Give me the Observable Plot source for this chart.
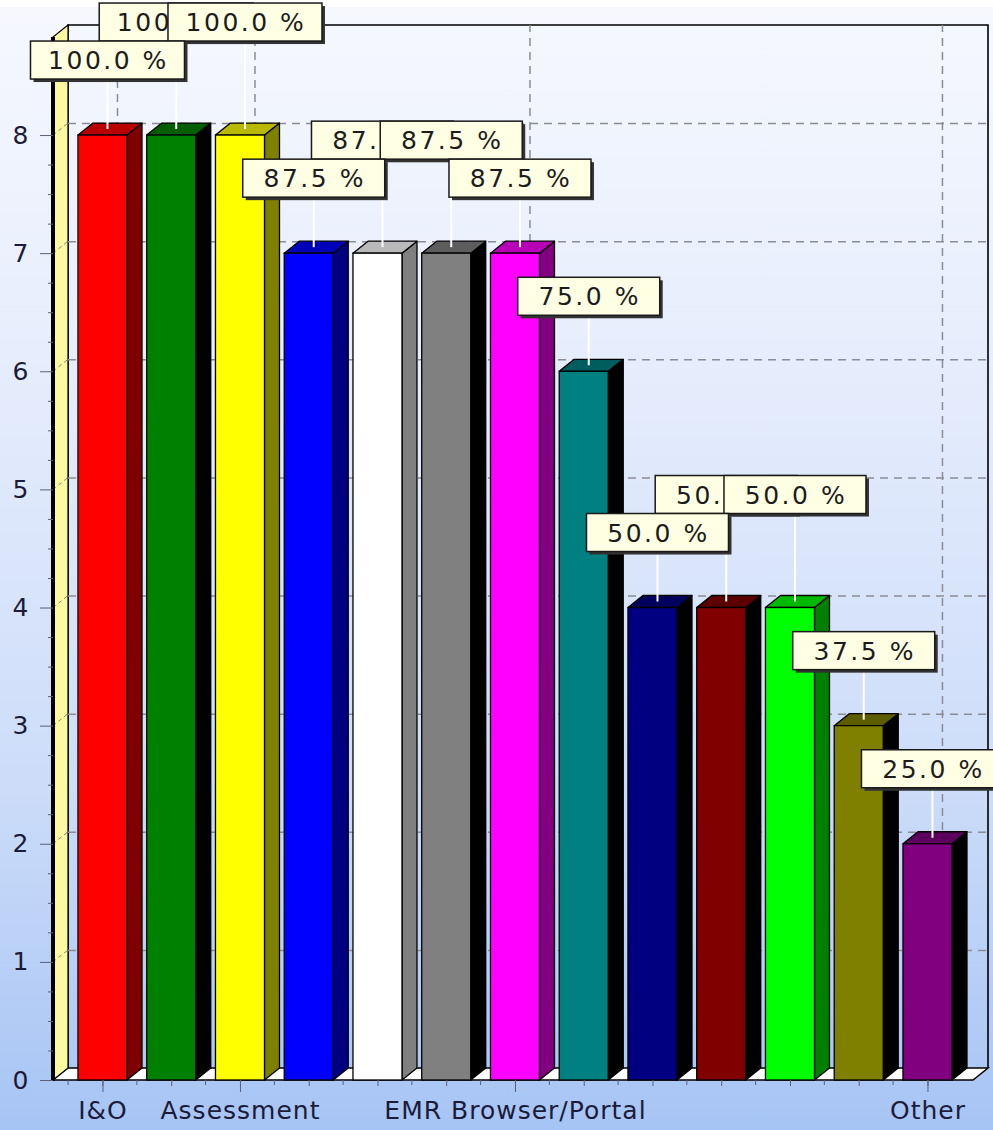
<!DOCTYPE html>
<html>
<head>
<meta charset="utf-8">
<script src="https://cdn.jsdelivr.net/npm/d3@7"></script>
<script src="https://cdn.jsdelivr.net/npm/@observablehq/plot@0.6"></script>
<style>
  html, body { margin: 0; padding: 0; background: #ffffff; }
  #chart svg { display: block; }
  [aria-label="x-axis tick label"] text { letter-spacing: 1px; }
</style>
</head>
<body>
<div id="chart"></div>
<script>
// ---- data ----
const categories = ["I&O", "", "Assessment", "", "", "", "EMR Browser/Portal", "", "", "", "", "", "Other"];
const counts = [8, 8, 8, 7, 7, 7, 7, 6, 4, 4, 4, 3, 2];
const percentLabels = ["100.0 %", "100.0 %", "100.0 %", "87.5 %", "87.5 %", "87.5 %", "87.5 %", "75.0 %", "50.0 %", "50.0 %", "50.0 %", "37.5 %", "25.0 %"];
const barColors = ["#ff0000", "#008000", "#ffff00", "#0000ff", "#ffffff", "#808080", "#ff00ff", "#008080", "#000080", "#800000", "#00ff00", "#808000", "#800080"];
const yTicks = [0, 1, 2, 3, 4, 5, 6, 7, 8];
const labeledBars = [0, 2, 6, 12];

// ---- styling constants ----
const DX = 15, DY = 12;          // 3D depth offset (px)
const BOX_H = 38;
const LOW_GAP = 50, HIGH_GAP = 88;
const FONT = "DejaVu Sans, Verdana, sans-serif";

const data = counts.map((v, i) => ({i, v, color: barColors[i], label: percentLabels[i]}));

function getScales(args) {
  return args.find(a => a && typeof a === "object" && !Array.isArray(a) && typeof a.x === "function" && typeof a.y === "function");
}
function sideColor(c) {
  const r = d3.rgb(c);
  const q = v => (v >= 200 ? 128 : 0);
  return d3.rgb(q(r.r), q(r.g), q(r.b)).formatHex();
}
function topColor(c) {
  return d3.rgb(c).darker(0.9).formatHex();
}

function walls(...args) {
  const {x, y} = getScales(args);
  const [x0, x1] = x.range();
  const y0 = y(0), yTop = y(y.domain()[1]);
  const bw = x.bandwidth(), step = x.step();
  const g = d3.create("svg:g");
  // floor
  g.append("path")
    .attr("d", `M${x0},${y0}L${x1},${y0}L${x1 + DX},${y0 - DY}L${x0 + DX},${y0 - DY}Z`)
    .attr("fill", "#ffffff").attr("stroke", "#000").attr("stroke-width", 1.5);
  // back wall outline
  g.append("path")
    .attr("d", `M${x0 + DX},${y0 - DY}L${x0 + DX},${yTop - DY}L${x1 + DX},${yTop - DY}L${x1 + DX},${y0 - DY}`)
    .attr("fill", "none").attr("stroke", "#000").attr("stroke-width", 1.6);
  // vertical dashed gridlines on back wall at labelled categories
  for (const i of labeledBars) {
    const gx = x(i) + bw / 2 + DX;
    g.append("line").attr("x1", gx).attr("x2", gx).attr("y1", y0 - DY).attr("y2", yTop - DY)
      .attr("stroke", "#8a8c96").attr("stroke-width", 1.5).attr("stroke-dasharray", "8,6");
  }
  // left wall
  g.append("path")
    .attr("d", `M${x0},${y0}L${x0 + DX},${y0 - DY}L${x0 + DX},${yTop - DY}L${x0},${yTop}Z`)
    .attr("fill", "#fcf9a0").attr("stroke", "#000").attr("stroke-width", 1.2);
  for (const t of yTicks) {
    if (t === 0) continue;
    g.append("line").attr("x1", x0).attr("y1", y(t)).attr("x2", x0 + DX).attr("y2", y(t) - DY)
      .attr("stroke", "#8a8c70").attr("stroke-width", 1).attr("stroke-dasharray", "4,3");
  }
  // front vertical axis edge
  g.append("line").attr("x1", x0).attr("x2", x0).attr("y1", y0 + 1).attr("y2", yTop)
    .attr("stroke", "#000").attr("stroke-width", 4);
  // small x ticks between categories
  for (let i = 0; i <= x.domain().length - 1; i++) {
    const tx = x(i) + bw / 2 - step / 2;
    g.append("line").attr("x1", tx).attr("x2", tx).attr("y1", y0).attr("y2", y0 + 5)
      .attr("stroke", "#5a6078").attr("stroke-width", 1);
  }
  return g.node();
}

function barDepth(...args) {
  const {x, y} = getScales(args);
  const bw = x.bandwidth();
  const g = d3.create("svg:g").attr("stroke", "#000").attr("stroke-width", 1.3).attr("stroke-linejoin", "round");
  for (const d of data) {
    const xl = x(d.i), xr = xl + bw, yt = y(d.v), yb = y(0);
    g.append("path").attr("d", `M${xr},${yb}L${xr + DX},${yb - DY}L${xr + DX},${yt - DY}L${xr},${yt}Z`)
      .attr("fill", sideColor(d.color));
    g.append("path").attr("d", `M${xl},${yt}L${xl + DX},${yt - DY}L${xr + DX},${yt - DY}L${xr},${yt}Z`)
      .attr("fill", topColor(d.color));
  }
  return g.node();
}

function valueLabels(...args) {
  const {x, y} = getScales(args);
  const bw = x.bandwidth();
  const placed = [];
  const items = data.map(d => {
    const cx = x(d.i) + bw / 2 + 5;
    const faceY = y(d.v) - DY / 2;
    const w = 70 + 12 * d.label.length;
    const low = {x0: cx - w / 2, x1: cx + w / 2, y0: faceY - LOW_GAP - BOX_H, y1: faceY - LOW_GAP};
    const hit = placed.some(p => low.x0 < p.x1 && low.x1 > p.x0 && low.y0 < p.y1 && low.y1 > p.y0);
    let box = low, level = "low";
    if (hit) {
      box = {x0: low.x0, x1: low.x1, y0: faceY - HIGH_GAP - BOX_H, y1: faceY - HIGH_GAP};
      level = "high";
    } else placed.push(low);
    return {d, cx, faceY, w, box, level};
  });
  const g = d3.create("svg:g");
  // leader lines
  for (const it of items) {
    g.append("line").attr("x1", it.cx).attr("x2", it.cx).attr("y1", it.box.y1).attr("y2", it.faceY)
      .attr("stroke", "#ffffff").attr("stroke-width", 2);
  }
  const drawBox = it => {
    const b = it.box;
    g.append("rect").attr("x", b.x0 + 3).attr("y", b.y0 + 3).attr("width", it.w).attr("height", BOX_H)
      .attr("fill", "#333333");
    g.append("rect").attr("x", b.x0).attr("y", b.y0).attr("width", it.w).attr("height", BOX_H)
      .attr("fill", "#ffffe3").attr("stroke", "#1a1a1a").attr("stroke-width", 1.5);
    g.append("text").attr("x", it.cx + 1).attr("y", b.y0 + BOX_H / 2).attr("dy", "0.36em")
      .attr("text-anchor", "middle").attr("font-family", FONT).attr("font-size", 25)
      .attr("letter-spacing", "2.5px").attr("fill", "#1c1c1c").text(it.d.label);
  };
  items.filter(it => it.level === "high").forEach(drawBox);
  items.filter(it => it.level === "low").forEach(drawBox);
  return g.node();
}

const quarterTicks = d3.range(0, 8.01, 0.25).filter(t => t % 1 !== 0);

const chart = Plot.plot({
  width: 993,
  height: 1130,
  marginLeft: 53,
  marginRight: 20,
  marginTop: 37,
  marginBottom: 50,
  x: {type: "band", domain: d3.range(categories.length), paddingInner: 0.287, paddingOuter: 0.3345, align: 0.543, round: false, axis: null, label: null},
  y: {domain: [0, 8.83], axis: null, label: null},
  color: {type: "identity"},
  style: {
    fontFamily: FONT,
    fontSize: "25px",
    color: "#1b1b3a",
    background: "linear-gradient(to bottom, #ffffff 0px, #ffffff 7px, #f6f8fe 7px, #e4ecfc 35%, #ccdcf9 70%, #a6c4f4 100%)"
  },
  marks: [
    walls,
    Plot.ruleY(yTicks.filter(t => t > 0), {y: d => d, dx: DX, dy: -DY, stroke: "#8a8c96", strokeWidth: 1.5, strokeDasharray: "8,6"}),
    barDepth,
    Plot.barY(data, {x: "i", y: "v", fill: "color", stroke: "#000", strokeWidth: 1.3}),
    Plot.axisY({ticks: quarterTicks, tickSize: 5, tickFormat: () => "", stroke: "#5a6078", label: null}),
    Plot.axisY({ticks: yTicks, tickSize: 13, tickPadding: 12, fontSize: 25, stroke: "#5a6078", fill: "#1b1b3a", label: null}),
    Plot.axisX({ticks: d3.range(categories.length), tickSize: 6, tickFormat: () => "", stroke: "#5a6078", label: null}),
    Plot.axisX({ticks: labeledBars, tickSize: 12, tickPadding: 9, fontSize: 25, tickFormat: i => categories[i], stroke: "#5a6078", fill: "#1b1b3a", label: null}),
    valueLabels
  ]
});
document.getElementById("chart").appendChild(chart);
</script>
</body>
</html>
